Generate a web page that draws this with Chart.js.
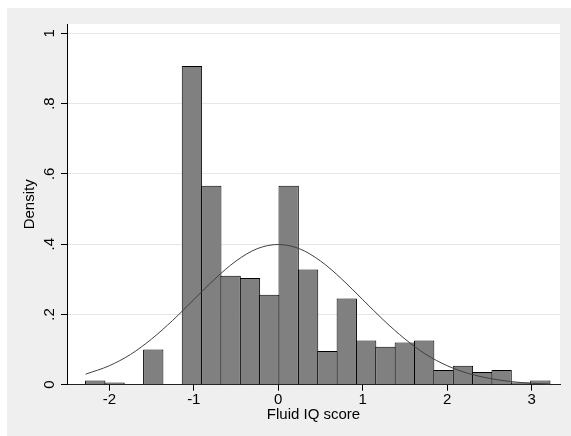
<!DOCTYPE html>
<html>
<head>
<meta charset="utf-8">
<script src="https://cdn.jsdelivr.net/npm/chart.js@4"></script>
<style>
  html, body { margin: 0; padding: 0; background: #fff; }
  #wrap { width: 571px; height: 436px; }
</style>
</head>
<body>
<div id="wrap"><canvas id="histChart" width="571" height="436"></canvas></div>
<script>
// histogram bins (centres on the score axis) and their density
const binCenters = [-2.167, -1.938, -1.709, -1.480, -1.251, -1.022, -0.793, -0.564,
    -0.335, -0.106, 0.123, 0.353, 0.582, 0.811, 1.040, 1.269,
    1.498, 1.727, 1.957, 2.186, 2.415, 2.644, 2.873, 3.102];
const density = [0.012, 0.006, 0, 0.100, 0, 0.907, 0.566, 0.310,
    0.304, 0.256, 0.566, 0.328, 0.096, 0.245, 0.126, 0.108,
    0.120, 0.126, 0.042, 0.054, 0.036, 0.042, 0.006, 0.012];

// normal density curve
const curveX = [-2.28, -2, -1.75, -1.5, -1.25, -1, -0.75, -0.5, -0.25, 0,
    0.25, 0.5, 0.75, 1, 1.25, 1.5, 1.75, 2, 2.25, 2.5, 2.75, 3, 3.22];
const curveY = [0.030, 0.054, 0.086, 0.130, 0.183, 0.242, 0.301, 0.352, 0.387, 0.399,
    0.387, 0.352, 0.301, 0.242, 0.183, 0.130, 0.086, 0.054, 0.032, 0.018, 0.009, 0.004, 0.002];

const xTicks = [-2, -1, 0, 1, 2, 3];
const yTicks = [0, 0.2, 0.4, 0.6, 0.8, 1];

const fmtDensity = (v) => {
    if (v === 0 || v === 1) return String(v);
    return v.toFixed(1).replace(/^0/, '');
};

const background = {
    id: 'background',
    beforeDraw: (chart) => {
        const {ctx, chartArea} = chart;
        ctx.save();
        ctx.fillStyle = '#efefef';
        ctx.fillRect(7, 8, chart.width - 7, chart.height - 8);
        ctx.fillStyle = '#ffffff';
        ctx.fillRect(chartArea.left, chartArea.top, chartArea.right - chartArea.left, chartArea.bottom - chartArea.top);
        ctx.restore();
    }
};

const font = { family: "'Liberation Sans', Arial, sans-serif", size: 15 };

const displayChart = () => {
    const ctx = document.getElementById('histChart');
    new Chart(ctx, {
        type: 'bar',
        data: {
            datasets: [{
                type: 'line',
                data: curveX.map((x, i) => ({ x: x, y: curveY[i] })),
                borderColor: '#404040',
                borderWidth: 1,
                pointRadius: 0,
                cubicInterpolationMode: 'monotone',
                order: 0
            }, {
                data: binCenters.map((x, i) => ({ x: x, y: density[i] })),
                backgroundColor: '#808080',
                borderColor: '#000000',
                borderWidth: 1,
                borderSkipped: 'bottom',
                barPercentage: 1.052,
                categoryPercentage: 1,
                inflateAmount: 0,
                order: 1
            }]
        },
        options: {
            responsive: false,
            animation: false,
            devicePixelRatio: 1,
            layout: { padding: { left: 7, top: 24, right: 11, bottom: 0 } },
            plugins: {
                legend: { display: false },
                tooltip: { enabled: false }
            },
            scales: {
                x: {
                    type: 'linear',
                    min: -2.501,
                    max: 3.335,
                    offset: false,
                    afterBuildTicks: (s) => { s.ticks = xTicks.map(v => ({ value: v })); },
                    afterFit: (s) => { s.height = 51.3; },
                    grid: { offset: false, drawOnChartArea: false, tickLength: 6, tickColor: '#000' },
                    border: { color: '#222', width: 1 },
                    ticks: { font: font, color: '#000', padding: 0, maxRotation: 0 },
                    title: { display: true, text: 'Fluid IQ score', font: font, color: '#000', padding: { top: 0, bottom: 12 } }
                },
                y: {
                    min: 0,
                    max: 1.0265,
                    afterBuildTicks: (s) => { s.ticks = yTicks.map(v => ({ value: v })); },
                    afterFit: (s) => { s.width = 60; },
                    grid: { color: '#e6e6e6', tickLength: 6, tickColor: '#000' },
                    border: { color: '#000', width: 1 },
                    ticks: {
                        font: font, color: '#000', padding: 4.75,
                        minRotation: 90, maxRotation: 90, crossAlign: 'center',
                        callback: (v) => fmtDensity(v)
                    },
                    title: { display: true, text: 'Density', font: font, color: '#000', padding: { top: 14, bottom: 0 } }
                }
            }
        },
        plugins: [background]
    });
}

displayChart();
</script>
</body>
</html>
